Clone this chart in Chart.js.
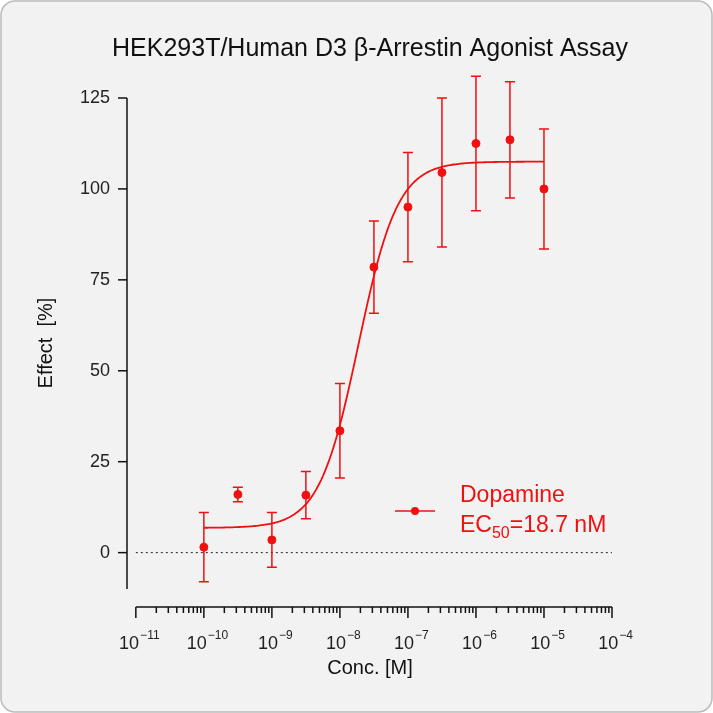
<!DOCTYPE html>
<html><head><meta charset="utf-8">
<script src="https://cdn.jsdelivr.net/npm/chart.js@4.4.0/dist/chart.umd.min.js"></script>
<style>html,body{margin:0;padding:0;background:#fff}canvas{display:block}</style>
</head><body>
<div style="width:713px;height:713px"><canvas id="c" width="713" height="713"></canvas></div>
<script>
const logConc = [-10, -9.5, -9, -8.5, -8, -7.5, -7, -6.5, -6, -5.5, -5];
const effect = [1.5, 16, 3.5, 15.8, 33.5, 78.5, 95, 104.5, 112.5, 113.5, 100];
const errSD = [9.5, 2, 7.5, 6.5, 13, 12.7, 15, 20.5, 18.5, 16, 16.5];
const fitParams = [6.8, 107.5, Math.log10(18.7e-9), 1.5]; // bottom, top, logEC50, hill
const yTicks = [0, 25, 50, 75, 100, 125];
const xDecades = [-11, -10, -9, -8, -7, -6, -5, -4];
const RED = '#f01010';
const FONT = 'Arial, "Liberation Sans"';

const curve = [];
for (let i = 0; i <= 200; i++) {
  const x = -10 + i * 5 / 200;
  const [b, t, e, h] = fitParams;
  curve.push({x, y: b + (t - b) / (1 + Math.pow(10, (e - x) * h))});
}
const pts = logConc.map((x, i) => ({x, y: effect[i]}));

const deco = {
  id: 'deco',
  beforeDraw(ch) {
    const c = ch.ctx; c.save();
    c.fillStyle = '#fff'; c.fillRect(0, 0, 713, 713);
    c.beginPath(); c.roundRect(1, 1, 711, 711, 14);
    c.fillStyle = '#f2f2f2'; c.fill(); c.strokeStyle = '#bbb'; c.lineWidth = 1.5; c.stroke();
    const xs = ch.scales.x, ys = ch.scales.y;
    c.setLineDash([2, 3]); c.strokeStyle = '#222'; c.lineWidth = 1;
    c.beginPath(); c.moveTo(xs.getPixelForValue(-11), ys.getPixelForValue(0));
    c.lineTo(xs.getPixelForValue(-4), ys.getPixelForValue(0)); c.stroke();
    c.restore();
  },
  afterDraw(ch) {
    const c = ch.ctx; c.save();
    const xs = ch.scales.x, ys = ch.scales.y;
    c.fillStyle = '#111'; c.font = '25px ' + FONT; c.textAlign = 'center'; c.textBaseline = 'alphabetic';
    c.fillText('HEK293T/Human D3 β-Arrestin Agonist Assay', 370, 56);
    // y axis
    c.strokeStyle = '#111'; c.lineWidth = 1.5;
    c.beginPath(); c.moveTo(127, ys.getPixelForValue(125)); c.lineTo(127, ys.getPixelForValue(-10)); c.stroke();
    c.textAlign = 'right'; c.textBaseline = 'middle'; c.font = '18px ' + FONT; c.fillStyle = '#222';
    yTicks.forEach(v => {
      const py = ys.getPixelForValue(v);
      c.beginPath(); c.moveTo(118, py); c.lineTo(127, py); c.stroke();
      c.fillText(String(v), 110, py);
    });
    c.textBaseline = 'alphabetic';
    // x axis
    const y0 = 607;
    c.beginPath(); c.moveTo(xs.getPixelForValue(-11), y0); c.lineTo(xs.getPixelForValue(-4), y0); c.stroke();
    xDecades.forEach((d, k) => {
      const px = xs.getPixelForValue(d);
      c.beginPath(); c.moveTo(px, y0); c.lineTo(px, y0 + 11); c.stroke();
      if (k < xDecades.length - 1) {
        for (let m = 2; m <= 9; m++) {
          const mx = xs.getPixelForValue(d + Math.log10(m));
          c.beginPath(); c.moveTo(mx, y0); c.lineTo(mx, y0 + 6); c.stroke();
        }
      }
      c.font = '18px ' + FONT; const w1 = c.measureText('10').width;
      c.font = '12px ' + FONT; const lab = String(d).replace('-', '−'); const w2 = c.measureText(lab).width;
      const x0 = px - (w1 + w2) / 2 + 3;
      c.textAlign = 'left'; c.fillStyle = '#222';
      c.font = '18px ' + FONT; c.fillText('10', x0, 649);
      c.font = '12px ' + FONT; c.fillText(lab, x0 + w1 + 1, 639);
    });
    c.textAlign = 'center'; c.font = '20px ' + FONT; c.fillStyle = '#111';
    c.fillText('Conc. [M]', 370, 674);
    c.save(); c.translate(52, 343); c.rotate(-Math.PI / 2);
    c.fillText('Effect  [%]', 0, 0); c.restore();
    // error bars
    c.strokeStyle = RED; c.lineWidth = 1.5;
    logConc.forEach((x, i) => {
      const px = xs.getPixelForValue(x);
      const a = ys.getPixelForValue(effect[i] + errSD[i]), b = ys.getPixelForValue(effect[i] - errSD[i]);
      c.beginPath(); c.moveTo(px, a); c.lineTo(px, b);
      c.moveTo(px - 5, a); c.lineTo(px + 5, a); c.moveTo(px - 5, b); c.lineTo(px + 5, b); c.stroke();
    });
    // legend
    c.beginPath(); c.moveTo(395, 511); c.lineTo(435, 511); c.stroke();
    c.fillStyle = RED; c.beginPath(); c.arc(415, 511, 4, 0, 7); c.fill();
    c.textAlign = 'left'; c.font = '23px ' + FONT;
    c.fillText('Dopamine', 460, 502);
    c.fillText('EC', 460, 532); const w = c.measureText('EC').width;
    c.font = '16px ' + FONT; c.fillText('50', 460 + w, 538);
    const w3 = c.measureText('50').width;
    c.font = '23px ' + FONT; c.fillText('=18.7 nM', 460 + w + w3, 532);
    c.restore();
  }
};

new Chart(document.getElementById('c'), {
  type: 'scatter',
  data: { datasets: [
    { data: pts, backgroundColor: RED, borderColor: RED, pointRadius: 4, showLine: false },
    { data: curve, borderColor: RED, borderWidth: 1.8, pointRadius: 0, showLine: true, fill: false }
  ]},
  options: {
    responsive: false, animation: false, devicePixelRatio: 1,
    layout: { padding: { left: 127, top: 98, right: 101, bottom: 124 } },
    plugins: { legend: { display: false }, tooltip: { enabled: false } },
    scales: {
      x: { type: 'linear', display: false, min: -11.13, max: -4 },
      y: { display: false, min: -10, max: 125 }
    }
  },
  plugins: [deco]
});
</script>
</body></html>
